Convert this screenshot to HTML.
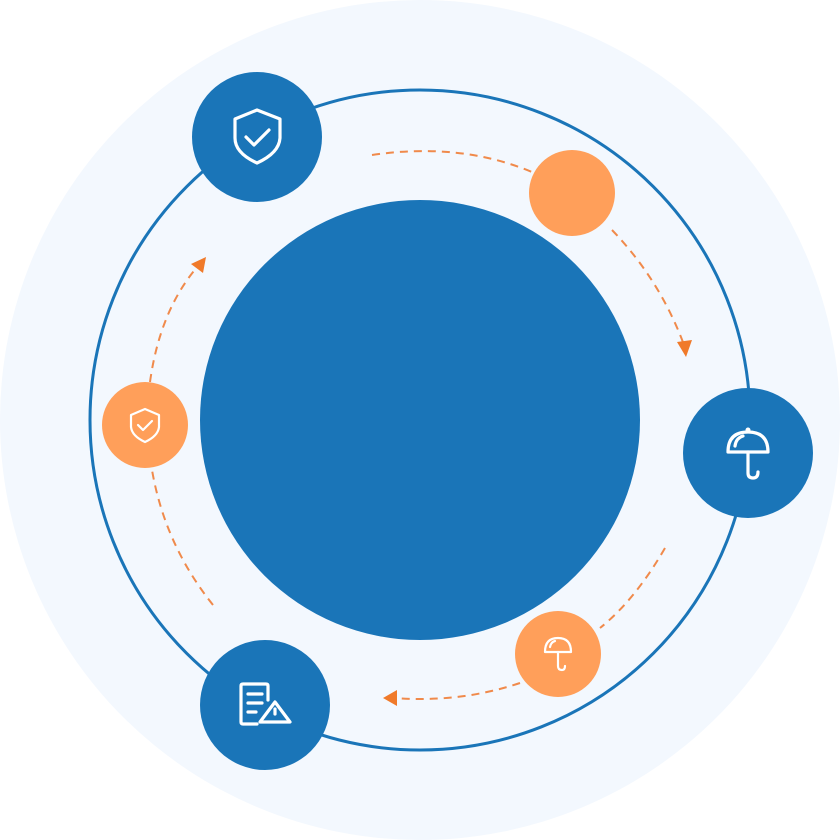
<!DOCTYPE html>
<html><head><meta charset="utf-8"><style>html,body{margin:0;padding:0;background:#fff}svg{display:block}</style></head><body>
<svg width="840" height="840" viewBox="0 0 840 840" xmlns="http://www.w3.org/2000/svg">
<circle cx="420" cy="420" r="420" fill="#f3f8fe"/>
<circle cx="420" cy="420" r="330" fill="none" stroke="#1a75b8" stroke-width="3"/>
<circle cx="420" cy="420" r="220" fill="#1a75b8"/>
<g fill="none" stroke="#f08a4b" stroke-width="2" stroke-dasharray="8 6">
<path d="M372 155 Q460 142 532 172"/>
<path d="M612 230 Q660 280 684 345"/>
<path d="M665 548 Q635 600 600 628"/>
<path d="M520 683 Q460 703 395 698"/>
<path d="M213 605 Q165 545 152 470"/>
<path d="M150 382 Q160 310 198 266"/>
</g>
<g fill="#f07a2a">
<polygon points="686,357 677,342 692,340"/>
<polygon points="383,698 397,690 397,706"/>
<polygon points="206,257 203,273 191,264"/>
</g>
<circle cx="257" cy="137" r="65" fill="#1a75b8"/>
<circle cx="748" cy="453" r="65" fill="#1a75b8"/>
<circle cx="265" cy="705" r="65" fill="#1a75b8"/>
<circle cx="572" cy="193" r="43" fill="#ff9f5a"/>
<circle cx="145" cy="425" r="43" fill="#ff9f5a"/>
<circle cx="558" cy="654" r="43" fill="#ff9f5a"/>
<g fill="none" stroke="#fff" stroke-width="3.2" stroke-linecap="round" stroke-linejoin="round">
<path d="M257 110 L280 119 L280 138 Q279 153 257 163 Q235 153 235 138 L235 119 Z"/>
<path d="M246 137 L254 145 L269 130"/>
<path d="M728 452 Q728 432 748 432 Q768 432 768 452 Z"/>
<path d="M748 452 L748 473 Q748 478 753 478 Q758 478 758 472"/>
<path d="M735 446 Q736 438 743 436"/>
<path d="M268 700 V686 Q268 684 266 684 H243 Q241 684 241 686 V722 Q241 724 243 724 H257"/>
<path d="M248 694 H262 M248 703 H262 M248 712 H256"/>
<path d="M275 702 L290 722 H260 Z"/>
<path d="M275 709 V714"/>
</g>
<circle cx="748" cy="430" r="2.5" fill="#fff"/>
<g fill="none" stroke="#fff" stroke-width="2.2" stroke-linecap="round" stroke-linejoin="round">
<path d="M145 409 L159 415 L159 427 Q158 436 145 442 Q132 436 131 427 L131 415 Z"/>
<path d="M138 425 L143 430 L152 421"/>
<path d="M545 652 Q545 638 558 638 Q571 638 571 652 Z"/>
<path d="M558 652 L558 666 Q558 670 562 670 Q565 670 565 666"/>
<path d="M550 647 Q551 642 555 641"/>
</g>
</svg>
</body></html>
